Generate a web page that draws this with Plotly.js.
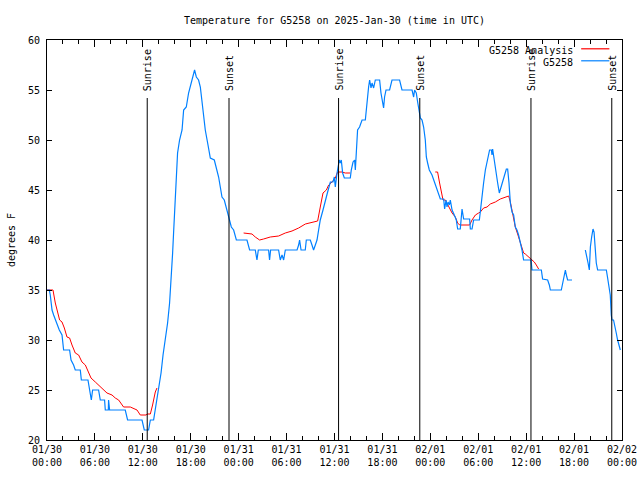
<!DOCTYPE html>
<html>
<head>
<meta charset="utf-8">
<script src="https://cdn.plot.ly/plotly-3.0.1.min.js"></script>
<style>html,body{margin:0;padding:0;background:#fff;}#chart{width:640px;height:480px;}</style>
</head>
<body>
<div id="chart"></div>
<script>
// Hours since 2025-01-30 00:00 UTC, and temperatures (degrees F)
const obsHours = [0.00,0.29,0.41,0.63,0.83,1.04,1.33,1.54,1.88,2.08,2.83,3.01,3.33,3.54,4.17,4.30,5.13,5.42,5.55,5.71,6.46,6.67,7.21,7.30,7.68,7.71,7.84,9.80,10.09,11.90,12.18,12.72,12.94,13.35,13.56,13.85,13.97,14.28,14.53,14.81,15.10,15.35,15.56,15.73,15.85,15.98,16.07,16.19,16.35,16.60,16.91,17.11,17.44,17.73,18.03,18.28,18.48,18.70,18.98,19.20,19.41,19.61,19.82,20.16,20.45,20.95,21.20,21.49,21.70,21.91,22.20,22.45,22.67,22.87,23.08,23.37,23.58,23.71,25.04,25.24,25.37,26.08,26.29,26.46,27.75,27.87,28.00,29.00,29.21,29.43,29.63,29.84,31.31,31.51,31.63,31.81,32.34,32.47,32.97,33.18,33.38,33.60,33.81,34.01,34.22,34.56,34.85,35.14,35.48,35.81,35.98,36.10,36.32,36.39,36.60,36.73,36.85,37.02,37.23,37.98,38.10,38.32,38.52,38.61,38.73,38.89,39.14,39.45,39.86,39.98,40.07,40.27,40.40,40.57,40.70,40.90,41.11,41.65,41.82,42.02,42.15,42.27,42.45,42.90,43.20,44.15,44.45,45.71,45.91,46.03,46.24,46.41,46.62,46.75,46.96,47.16,47.37,47.50,47.66,47.87,48.21,48.41,48.62,48.84,49.04,49.25,49.67,49.79,49.97,50.09,50.22,50.38,50.50,50.72,51.00,51.25,51.42,51.75,51.97,52.04,52.17,52.92,53.01,53.22,53.42,54.14,54.26,54.47,54.67,54.89,55.17,55.42,55.64,55.72,55.80,55.93,56.05,56.26,56.43,56.64,56.85,57.10,57.30,57.52,57.68,57.85,58.02,58.23,58.43,58.64,58.85,59.05,59.27,59.48,59.68,60.61,60.73,61.90,62.06,62.69,62.90,63.03,64.40,64.61,64.78,64.91,65.03,65.19,65.74,66.5,67.41,67.63,67.75,67.91,68.04,68.20,68.37,68.50,68.62,68.78,68.95,70.04,70.20,70.37,70.53,70.66,70.74,70.94,71.16,71.28,71.45,71.63,71.79];
const obsTemps = [35,35,34.5,33,32.5,32,31.5,31,30.5,29,29,28,27.5,27,27,26,26,24.7,24,25,25,24,24,23,23,24,23,23,22,22,21,21,22,22,23,24.3,25.2,26.7,28.5,30,31.7,33.7,36,38.7,40.7,42.7,45,47,48.7,50,51,53,53.3,54.7,55.7,56.5,57,56.3,56,55.3,53.7,52,51,49.5,48.2,48,47.3,46.3,45.3,44.3,44,43.3,42.5,42,41.3,41,40.5,40,40,39.5,39,39,38,39,39,38,39,39,38,38.5,38,39,39,39.5,40,39,39,40,40,39.5,39,39.5,40,41,42,43,44,44.8,45.8,45.8,46.3,45.3,46.7,47,48,47.7,48,46.7,46.2,46.2,47,47.8,48,47,49.2,51,51.3,52,52,53,54.3,55.3,56,55.2,55.7,55.2,56,56,54.7,53.7,53.2,54.3,55,55,56,56,55,55,54.3,55,54.7,53.8,53,52.2,52,51.3,50,48.3,47.7,47,46.5,46,45.5,45,44.6,44.1,44.1,43.1,44,43.3,43.8,43.5,44,43,42.5,42,41.1,41.1,43.1,42.5,42.1,42.1,41.1,41.1,42,42,43,44.3,45.7,47,48.2,49,49,48.5,49.1,48.3,47.7,46.7,45.7,44.7,45.2,45.8,46.5,47.1,47.1,45.7,43.7,42.8,42.5,41.3,41,40.5,39.8,39,38,38,37,37,36.1,36,35.5,35,35,35.7,36.4,37,36.5,36,36,null,39,38.3,37.7,37,39.3,40.3,41.1,40.8,39,37.7,37,37,36.2,35.5,34.5,32.5,32,32,31.3,30.7,30,29.3,29];

const anaHours = [0.00,0.75,1.04,1.33,1.58,1.88,2.17,2.50,2.83,3.13,3.54,3.96,4.38,4.80,5.21,5.51,6.05,6.67,7.51,8.14,8.55,8.97,9.59,10.43,11.27,11.68,12.43,12.52,12.94,13.22,13.56,13.77,19.0,24.62,25.67,26.08,26.62,27.12,27.96,29.00,29.84,30.68,31.51,32.35,33.18,33.89,34.22,34.56,34.98,35.27,35.69,36.10,36.39,36.94,37.35,37.98,43.0,48.62,48.91,49.16,49.37,49.59,49.88,50.09,50.41,50.72,51.13,51.42,51.67,52.92,53.22,53.64,54.05,54.26,54.67,55.10,55.51,56.14,56.76,57.39,57.81,58.02,58.23,58.64,59.05,59.48,59.68,59.89,60.30,60.61,61.02,61.27,61.56];
const anaTemps = [35,35,33.7,32.7,32,31.8,31.2,30.3,30.2,29.5,28.7,28.5,27.8,27.5,26.8,26.2,25.8,25.3,24.7,24.5,24.2,24,23.3,23.3,23,22.5,22.5,22.6,22.6,23.5,24.8,25.2,null,40.7,40.6,40.3,40,40.1,40.3,40.4,40.7,40.9,41.2,41.6,41.8,41.9,43.3,44.7,45,45.5,45.8,46.2,46.8,46.8,46.7,46.7,null,46.8,46.8,45.7,44.8,44,44,43.7,43.2,42.7,42.3,41.7,41.5,41.5,42,42.5,42.7,42.8,43.2,43.3,43.6,43.8,44.1,44.3,44.4,43.8,42.8,41.3,40.3,39.2,38.7,38.6,38.3,38.1,37.8,37.5,37.1];

const sunriseHours = [12.55, 36.51, 60.60];
const sunsetHours = [22.79, 46.68, 70.72];

const stationName = "G5258";
const seriesNames = ["G5258 Analysis", "G5258"];
const seriesColors = ["#ff0000", "#0080ff"];

function hToDate(h) {
  const d = new Date(Date.UTC(2025, 0, 30) + Math.round(h * 3600) * 1000);
  const p = n => String(n).padStart(2, "0");
  return d.getUTCFullYear() + "-" + p(d.getUTCMonth() + 1) + "-" + p(d.getUTCDate()) + " " +
    p(d.getUTCHours()) + ":" + p(d.getUTCMinutes()) + ":" + p(d.getUTCSeconds());
}

const FONT = {family: "DejaVu Sans Mono, Liberation Mono, monospace", size: 10, color: "#000"};

const traces = [
  {x: anaHours.map(hToDate), y: anaTemps, type: "scatter", mode: "lines", name: seriesNames[0],
   line: {color: seriesColors[0], width: 1}, connectgaps: false, showlegend: false},
  {x: obsHours.map(hToDate), y: obsTemps, type: "scatter", mode: "lines", name: seriesNames[1],
   line: {color: seriesColors[1], width: 1.2}, connectgaps: false, showlegend: false}
];

const shapes = [];
const annotations = [];
sunriseHours.forEach(h => {
  shapes.push({type: "line", xref: "x", yref: "y", x0: hToDate(h), x1: hToDate(h), y0: 20, y1: 54.2, line: {color: "#000", width: 1}});
  annotations.push({x: hToDate(h), y: 54.8, xref: "x", yref: "y", text: "Sunrise", textangle: -90, showarrow: false, xanchor: "center", yanchor: "bottom", font: FONT, borderpad: 0});
});
sunsetHours.forEach(h => {
  shapes.push({type: "line", xref: "x", yref: "y", x0: hToDate(h), x1: hToDate(h), y0: 20, y1: 54.2, line: {color: "#000", width: 1}});
  annotations.push({x: hToDate(h), y: 54.8, xref: "x", yref: "y", text: "Sunset", textangle: -90, showarrow: false, xanchor: "center", yanchor: "bottom", font: FONT, borderpad: 0});
});
// legend (gnuplot style: text then sample line)
const legY = [0.975, 0.945];
seriesNames.forEach((n, i) => {
  annotations.push({x: 0.917, y: legY[i], xref: "paper", yref: "paper", text: n, showarrow: false, xanchor: "right", yanchor: "middle", font: FONT, borderpad: 0});
  shapes.push({type: "line", xref: "paper", yref: "paper", x0: 0.929, x1: 0.978, y0: legY[i] + 0.003, y1: legY[i] + 0.003, line: {color: seriesColors[i], width: 1.2}});
});

const layout = {
  width: 640, height: 480,
  margin: {l: 47, r: 18, t: 40, b: 40, pad: 0},
  paper_bgcolor: "#fff", plot_bgcolor: "#fff",
  font: FONT,
  showlegend: false,
  title: {text: "Temperature for " + stationName + " on 2025-Jan-30 (time in UTC)", font: FONT, x: 0.5, xref: "paper", xanchor: "center", y: 1 - 20 / 480, yref: "container", yanchor: "middle"},
  xaxis: {
    type: "date",
    range: [hToDate(0), hToDate(72)],
    tick0: hToDate(0), dtick: 6 * 3600000,
    tickformat: "%m/%d<br>%H:%M",
    ticks: "inside", ticklen: 7, tickcolor: "#000", tickwidth: 1,
    minor: {dtick: 2 * 3600000, tick0: hToDate(0), ticks: "inside", ticklen: 4, tickcolor: "#000", showgrid: false},
    showline: true, linecolor: "#000", linewidth: 1, mirror: "allticks",
    showgrid: false, zeroline: false, tickfont: FONT, fixedrange: true
  },
  yaxis: {
    range: [20, 60], dtick: 5, tick0: 20,
    ticks: "inside", ticklen: 5, tickcolor: "#000",
    showline: true, linecolor: "#000", linewidth: 1, mirror: "allticks",
    showgrid: false, zeroline: false, tickfont: FONT, ticklabelstandoff: 4,
    title: {text: "degrees F", font: FONT, standoff: 10}
  },
  shapes: shapes,
  annotations: annotations
};

Plotly.newPlot("chart", traces, layout, {staticPlot: true, displayModeBar: false});
</script>
</body>
</html>
